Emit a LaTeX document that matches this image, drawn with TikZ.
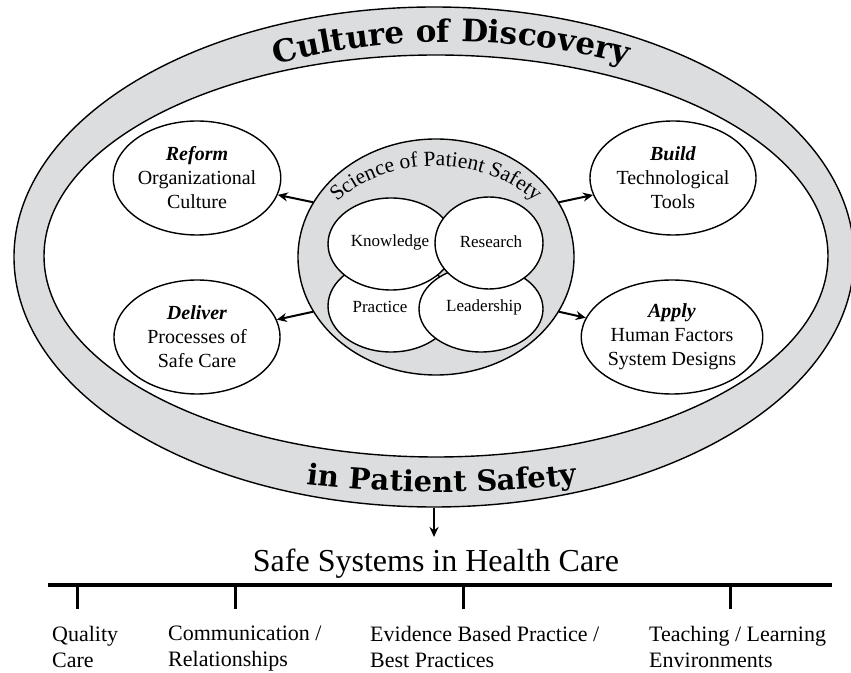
\documentclass[tikz,border=0pt]{standalone}
\usepackage{fontspec}
\setmainfont{Liberation Serif}
\newfontfamily\titlefont{DejaVu Serif}
\usetikzlibrary{decorations.text,shapes.geometric,arrows.meta}
\definecolor{ringgray}{RGB}{220,221,223}
\begin{document}
\begin{tikzpicture}[x=1pt,y=1pt,
  ell/.style={ellipse,draw,line width=1.4pt,inner sep=0pt},
  sat/.style={ell,fill=white,minimum width=166pt,minimum height=114pt,align=center,font=\fontsize{20}{24}\selectfont},
  core/.style={ell,fill=white},
  corelbl/.style={font=\fontsize{17}{20}\selectfont,inner sep=0pt},
  arr/.style={line width=2pt,-{Stealth[length=10pt,width=9pt]}},
  bar/.style={line width=3.5pt},
  tick/.style={line width=3pt},
  bottomlbl/.style={anchor=north west,inner sep=0pt,align=left,font=\fontsize{22}{26}\selectfont}
]
\useasboundingbox (0,0) rectangle (851,672);

% outer ring
\node[ell,fill=ringgray,minimum width=840pt,minimum height=500pt] (outer) at (434,415) {};
\node[ell,fill=white,minimum width=784pt,minimum height=402pt] (inner) at (436,416) {};

% ring titles
\path[decorate,decoration={text along path,text align=center,
  text={|\titlefont\bfseries\fontsize{31}{31}\selectfont|Culture of Discovery}}]
  ([shift={(130:395 and 215)}]451,415) arc[start angle=130,end angle=50,x radius=395,y radius=215];
\path[decorate,decoration={text along path,text align=center,
  text={|\titlefont\bfseries\fontsize{29}{29}\selectfont|in Patient Safety}}]
  ([shift={(242:525 and 235)}]442,415) arc[start angle=242,end angle=298,x radius=525,y radius=235];

% science of patient safety
\node[ell,fill=ringgray,minimum width=276pt,minimum height=236pt] (sci) at (436,415) {};
\path[decorate,decoration={text along path,text align=center,
  text={|\fontsize{21.5}{21.5}\selectfont|Science of Patient Safety}}]
  ([shift={(160:124 and 91)}]sci.center) arc[start angle=160,end angle=20,x radius=124,y radius=91];

\node[core,minimum width=126pt,minimum height=92pt] (prac) at (391,366) {};
\node[core,minimum width=124pt,minimum height=86pt] (lead) at (481,363) {};
\node[core,minimum width=126pt,minimum height=92pt] (know) at (391,428) {};
\node[core,minimum width=108pt,minimum height=92pt] (res) at (489,429) {};
\node[corelbl] at ([xshift=-1pt,yshift=2pt]know.center) {Knowledge};
\node[corelbl] at ([xshift=2pt,yshift=1pt]res.center) {Research};
\node[corelbl] at ([xshift=-11pt,yshift=-1pt]prac.center) {Practice};
\node[corelbl] at ([xshift=3pt,yshift=2pt]lead.center) {Leadership};

% satellites
\node[sat] (reform) at (197,494) {\textbf{\textit{Reform}}\\Organizational\\Culture};
\node[sat] (build) at (673,494) {\textbf{\textit{Build}}\\Technological\\Tools};
\node[sat] (deliver) at (197,335) {\textbf{\textit{Deliver}}\\Processes of\\Safe Care};
\node[sat] (apply) at (672,335) {\textbf{\textit{Apply}}\\Human Factors\\System Designs};

\draw[arr] (sci.156) -- (reform);
\draw[arr] (sci.204) -- (deliver);
\draw[arr] (sci.24) -- (build);
\draw[arr] (sci.336) -- (apply);

% safe systems
\node[anchor=base,inner sep=0pt,font=\fontsize{32}{32}\selectfont] (safe) at (436,100) {Safe Systems in Health Care};
\coordinate (arrtip) at (434,135);
\draw[arr] (outer.south) -- (arrtip);

\coordinate (barL) at (48,87);
\coordinate (barR) at (832,87);
\draw[bar] (barL) -- (barR);
\foreach \tx in {77,235,463,730} \draw[tick] (\tx,87) -- (\tx,63);

\node[bottomlbl] (q) at (52,46) {Quality\\Care};
\node[bottomlbl] (c) at (168,46) {Communication /\\Relationships};
\node[bottomlbl] (e) at (370,46) {Evidence Based Practice /\\Best Practices};
\node[bottomlbl] (t) at (649,46) {Teaching / Learning\\Environments};
\end{tikzpicture}
\end{document}
